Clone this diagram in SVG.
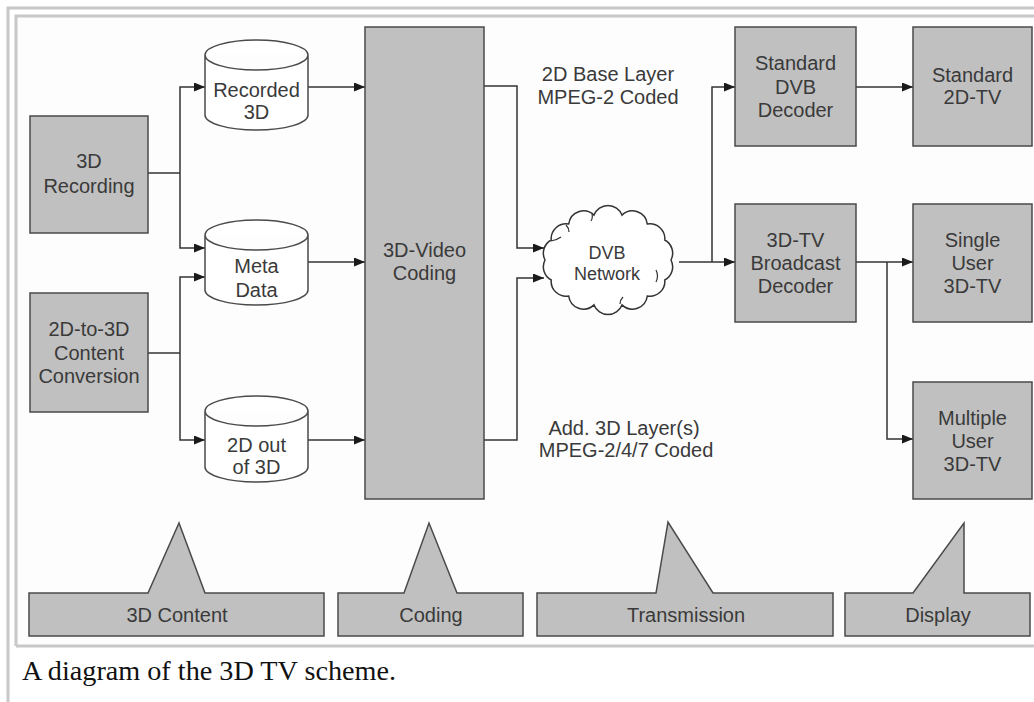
<svg xmlns="http://www.w3.org/2000/svg" width="1034" height="702" viewBox="0 0 1034 702">
<style>
.box{fill:#c0c0c0;stroke:#4a4a4a;stroke-width:1.5}
.cyl{fill:#ffffff;stroke:#4a4a4a;stroke-width:1.5}
.t{font-family:"Liberation Sans",Arial,sans-serif;font-size:20px;fill:#3a3a3a;text-anchor:middle}
.ts{font-family:"Liberation Sans",Arial,sans-serif;font-size:18px;fill:#3a3a3a;text-anchor:middle}
.c{fill:none;stroke:#333333;stroke-width:1.5}
.a{marker-end:url(#arr)}
.frame{fill:none;stroke:#c8c8c8;stroke-width:3}
</style>
<defs>
<marker id="arr" markerUnits="userSpaceOnUse" markerWidth="11" markerHeight="9" refX="11" refY="4.5" orient="auto">
<path d="M0,0 L11,4.5 L0,9 Z" fill="#1a1a1a"/>
</marker>
</defs>
<rect x="0" y="0" width="1034" height="702" fill="#ffffff"/>
<rect x="16" y="16" width="1030" height="630" fill="#fdfdfd"/>
<g id="frame">
<path class="frame" d="M8,702 V8 H1034"/>
<path class="frame" d="M16,646 V16 H1034 M16,646 H1034"/>
</g>
<g id="connectors">
<path class="c" d="M148,173 H180"/>
<path class="c a" d="M180,173 V87 H205"/>
<path class="c a" d="M180,173 V248 H205"/>
<path class="c" d="M148,353 H180"/>
<path class="c a" d="M180,353 V277 H205"/>
<path class="c a" d="M180,353 V440 H205"/>
<path class="c a" d="M308,87 H365"/>
<path class="c a" d="M308,262 H365"/>
<path class="c a" d="M308,440 H365"/>
<path class="c a" d="M484,86 H517 V248 H544"/>
<path class="c a" d="M484,440 H517 V278 H544"/>
<path class="c" d="M679,262 H712"/>
<path class="c a" d="M712,262 V87 H735"/>
<path class="c a" d="M712,262 H735"/>
<path class="c a" d="M856,87 H913"/>
<path class="c" d="M856,262 H887"/>
<path class="c a" d="M887,262 H913"/>
<path class="c a" d="M887,262 V439 H913"/>
</g>
<g id="rec3d">
<rect class="box" x="30" y="116" width="118" height="117"/>
<text class="t" x="89" y="168">3D</text>
<text class="t" x="89" y="193">Recording</text>
</g>
<g id="conv">
<rect class="box" x="30" y="293" width="118" height="119"/>
<text class="t" x="89" y="336">2D-to-3D</text>
<text class="t" x="89" y="360">Content</text>
<text class="t" x="89" y="383">Conversion</text>
</g>
<g id="recorded3d">
<path class="cyl" d="M205,55 A51.5,15 0 0 1 308,55 V115 A51.5,15 0 0 1 205,115 Z M205,55 A51.5,15 0 0 0 308,55"/>
<text class="t" x="256.5" y="97">Recorded</text>
<text class="t" x="256.5" y="119">3D</text>
</g>
<g id="metadata">
<path class="cyl" d="M205,235 A51.5,15 0 0 1 308,235 V290 A51.5,15 0 0 1 205,290 Z M205,235 A51.5,15 0 0 0 308,235"/>
<text class="t" x="256.5" y="273">Meta</text>
<text class="t" x="256.5" y="297">Data</text>
</g>
<g id="out2d">
<path class="cyl" d="M205,411 A51.5,15 0 0 1 308,411 V467 A51.5,15 0 0 1 205,467 Z M205,411 A51.5,15 0 0 0 308,411"/>
<text class="t" x="256.5" y="452">2D out</text>
<text class="t" x="256.5" y="474">of 3D</text>
</g>
<g id="coding">
<rect class="box" x="365" y="27" width="119" height="472"/>
<text class="t" x="424.5" y="257">3D-Video</text>
<text class="t" x="424.5" y="280">Coding</text>
</g>
<g id="label-base">
<text class="t" x="608" y="81">2D Base Layer</text>
<text class="t" x="608" y="104">MPEG-2 Coded</text>
</g>
<g id="label-add">
<text class="t" x="624" y="435">Add. 3D Layer(s)</text>
<text class="t" x="626" y="457">MPEG-2/4/7 Coded</text>
</g>
<g id="dvb">
<path fill="#ffffff" stroke="#333333" stroke-width="1.5" d="M671,260 A15,15 0 0 1 664.8,280 A15,15 0 0 1 647.3,296 A15,15 0 0 1 622,304.9 A15,15 0 0 1 594,304.9 A15,15 0 0 1 568.7,296 A15,15 0 0 1 551.2,280 A15,15 0 0 1 545,260 A15,15 0 0 1 551.2,240 A15,15 0 0 1 568.7,224 A15,15 0 0 1 594,215.1 A15,15 0 0 1 622,215.1 A15,15 0 0 1 647.3,224 A15,15 0 0 1 664.8,240 A15,15 0 0 1 671,260 Z"/>
<path fill="none" stroke="#333333" stroke-width="1.2" d="M551,241 q6,-1 10,-4 M566,225 q3,3 3,7 M656,282 q3,-6 0,-12 M620,304 q0,-4 3,-7 M592,214 q1,4 -1,7"/>
<text class="ts" x="607" y="259">DVB</text>
<text class="ts" x="607" y="280">Network</text>
</g>
<g id="stddec">
<rect class="box" x="735" y="27" width="121" height="119"/>
<text class="t" x="795.5" y="70">Standard</text>
<text class="t" x="795.5" y="94">DVB</text>
<text class="t" x="795.5" y="117">Decoder</text>
</g>
<g id="std2dtv">
<rect class="box" x="913" y="27" width="119" height="119"/>
<text class="t" x="972.5" y="82">Standard</text>
<text class="t" x="972.5" y="104">2D-TV</text>
</g>
<g id="bcdec">
<rect class="box" x="735" y="204" width="121" height="118"/>
<text class="t" x="795.5" y="247">3D-TV</text>
<text class="t" x="795.5" y="270">Broadcast</text>
<text class="t" x="795.5" y="293">Decoder</text>
</g>
<g id="single">
<rect class="box" x="913" y="204" width="119" height="118"/>
<text class="t" x="972.5" y="247">Single</text>
<text class="t" x="972.5" y="270">User</text>
<text class="t" x="972.5" y="293">3D-TV</text>
</g>
<g id="multi">
<rect class="box" x="913" y="382" width="119" height="117"/>
<text class="t" x="972.5" y="425">Multiple</text>
<text class="t" x="972.5" y="448">User</text>
<text class="t" x="972.5" y="471">3D-TV</text>
</g>
<g id="phase-content">
<path class="box" d="M29,593 H148 L179,523 L205,593 H324 V636 H29 Z"/>
<text class="t" x="177" y="622">3D Content</text>
</g>
<g id="phase-coding">
<path class="box" d="M338,593 H404 L429,523 L457,593 H523 V636 H338 Z"/>
<text class="t" x="431" y="622">Coding</text>
</g>
<g id="phase-transmission">
<path class="box" d="M537,593 H656 L668,522 L713,593 H833 V636 H537 Z"/>
<text class="t" x="686" y="622">Transmission</text>
</g>
<g id="phase-display">
<path class="box" d="M845,593 H913 L964,523 V593 H1030 V636 H845 Z"/>
<text class="t" x="938" y="622">Display</text>
</g>
<text x="22" y="680" font-family="'Liberation Serif','Times New Roman',serif" font-size="27" fill="#111111" textLength="374" lengthAdjust="spacingAndGlyphs">A diagram of the 3D TV scheme.</text>
</svg>
